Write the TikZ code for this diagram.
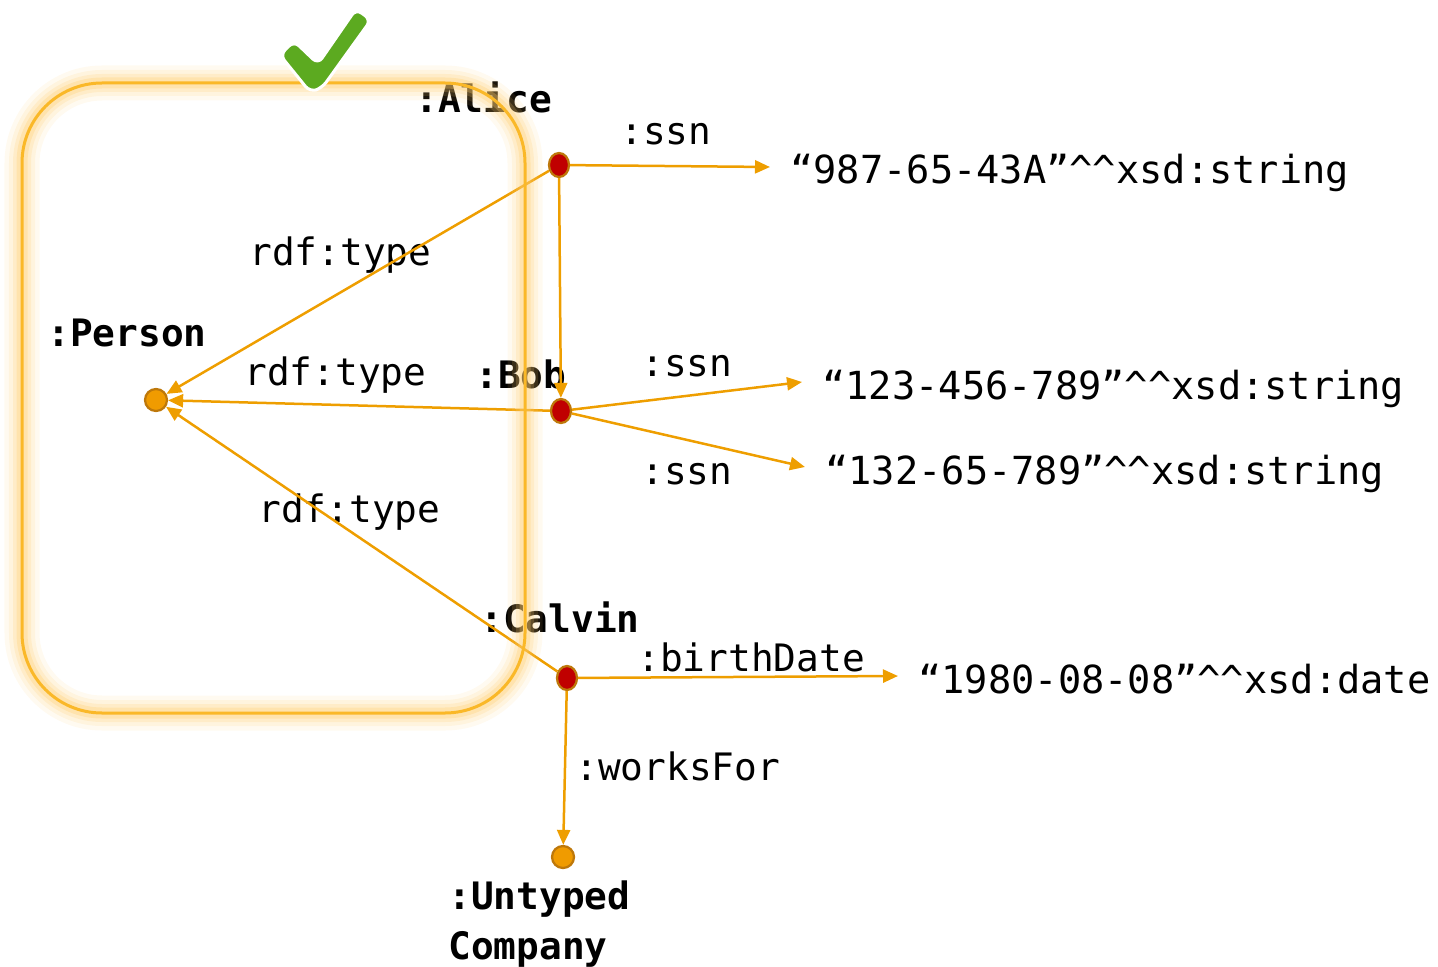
\documentclass[tikz,border=0pt]{standalone}
\usepackage{fontspec}
\setmonofont{DejaVu Sans Mono}
\usepackage{tikz}
\usetikzlibrary{arrows.meta,positioning,shapes.geometric}
\definecolor{edgeorange}{RGB}{238,158,0}
\definecolor{boxgold}{RGB}{250,184,40}
\definecolor{glowgold}{RGB}{255,205,110}
\definecolor{dotred}{RGB}{192,0,0}
\definecolor{dotrim}{RGB}{190,120,10}
\definecolor{dotorange}{RGB}{240,155,0}
\definecolor{checkgreen}{RGB}{92,170,32}
\newcommand{\dtype}{\textasciicircum\textasciicircum{}}
\tikzset{
  txt/.style={
    font=\ttfamily\fontsize{21.5}{28.5}\selectfont,
    inner sep=0pt,
    anchor=base west
  },
  resname/.style={
    txt,
    font=\ttfamily\bfseries\fontsize{21.5}{28.5}\selectfont
  },
  literal/.style={
    txt,
    font=\ttfamily\fontsize{22}{28.5}\selectfont,
    anchor=west,
    text height=6.8mm,
    text depth=0pt,
    inner xsep=4mm
  },
  instdot/.style={
    ellipse,
    draw=dotrim,
    fill=dotred,
    line width=0.45mm,
    minimum width=4mm,
    minimum height=4.8mm,
    inner sep=0pt
  },
  classdot/.style={
    instdot,
    circle,
    fill=dotorange,
    minimum size=4.4mm
  },
  triple/.style={draw=edgeorange,line width=0.5mm,-{Triangle[length=3mm,width=2.6mm]}},
  glowline/.style={glowgold,rounded corners=16mm}
}

\begin{document}
\begin{tikzpicture}[x=0.2mm,y=-0.2mm]
  \useasboundingbox (0,0) rectangle (1438,967);

  % resources
  \node[classdot] (person) at (156,400) {};
  \node[instdot] (alice) at (559,165) {};
  \node[instdot] (bob) at (561,411) {};
  \node[instdot] (calvin) at (567,678) {};
  \node[classdot] (company) at (563,857) {};

  \node[resname] (personname) at (47,346) {:Person};
  \node[resname] (alicename) at (415,113) {:Alice};
  \node[resname] (bobname) at (475,388) {:Bob};
  \node[resname] (calvinname) at (480,632) {:Calvin};
  \node[resname,anchor=north west,align=left] (companyname) at (448,880) {:Untyped\\Company};

  % literal values
  \node[literal] (ssnalice) at (770,167) {“987-65-43A”\dtype xsd:string};
  \node[literal] (ssnbob) at (802,382) {“123-456-789”\dtype xsd:string};
  \node[literal] (ssnbob2) at (805,467) {“132-65-789”\dtype xsd:string};
  \node[literal] (birth) at (898,676) {“1980-08-08”\dtype xsd:date};

  % property labels
  \node[txt] (ssnlabel) at (620,145) {:ssn};
  \node[txt] (ssnlabel2) at (641,376) {:ssn};
  \node[txt] (ssnlabel3) at (641,484) {:ssn};
  \node[txt] (birthlabel) at (637,671) {:birthDate};
  \node[txt] (workslabel) at (575,780) {:worksFor};
  \node[txt] (typelabel) at (249,265) {rdf:type};
  \node[txt] (typelabel2) at (244,385) {rdf:type};
  \node[txt] (typelabel3) at (258,522) {rdf:type};

  \draw[triple] (alice) -- (person);
  \draw[triple] (bob) -- (person);
  \draw[triple] (calvin) -- (person);
  \draw[triple] (alice) -- (bob);
  \draw[triple] (calvin) -- (company);
  \draw[triple] (alice) -- (ssnalice.west);
  \draw[triple] (bob) -- (ssnbob.west);
  \draw[triple] (bob) -- (ssnbob2.west);
  \draw[triple] (calvin) -- (birth.west);

  % glowing class box
  \foreach \w/\o in {7mm/0.10,5.2mm/0.14,3.6mm/0.2,2.2mm/0.3}
    \draw[glowline,line width=\w,opacity=\o] (22,83) rectangle (525,713);
  \draw[boxgold,line width=0.6mm,rounded corners=16mm] (22,83) rectangle (525,713);

  % tick
  \filldraw[fill=checkgreen,draw=white,line width=0.6mm,rounded corners=1.4mm]
    (294,41) -- (318,64) -- (356,9) -- (371,20) -- (322,88) -- (310,92) -- (280,55) -- cycle;
\end{tikzpicture}
\end{document}
